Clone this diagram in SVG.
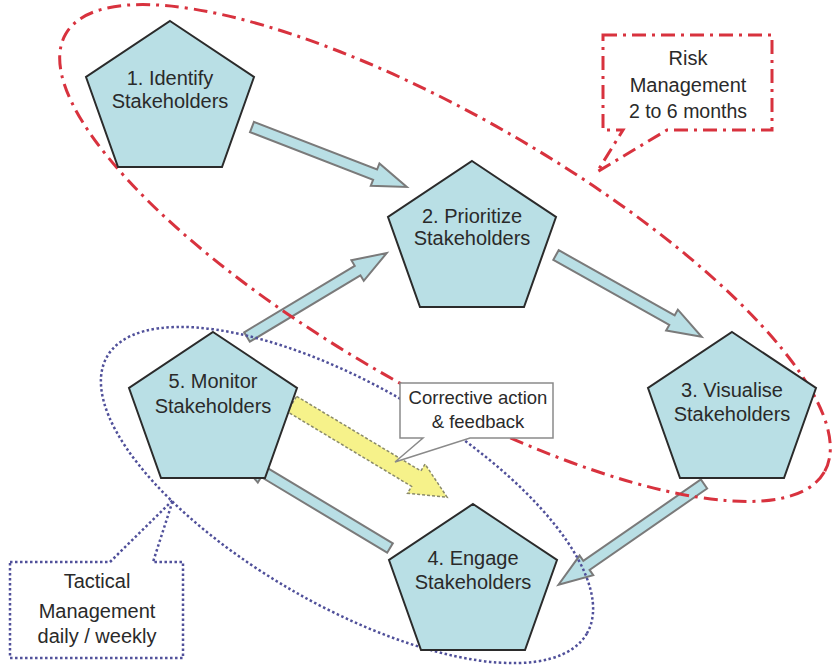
<svg xmlns="http://www.w3.org/2000/svg" width="840" height="668" viewBox="0 0 840 668">
<defs>
<style>
.pent{fill:#b9dfe5;stroke:#2b2b2b;stroke-width:2;stroke-linejoin:miter}
.lbl{font-family:"Liberation Sans",Arial,sans-serif;font-size:20px;fill:#2a2a2a;text-anchor:middle}
.arr{fill:#b9dfe5;stroke:#7a7a7a;stroke-width:2;stroke-linejoin:miter}
.yarr{fill:#f6f28a;stroke:#8a8a6a;stroke-width:1.5;stroke-dasharray:3 2}
.red{fill:none;stroke:#d8323e;stroke-width:3;stroke-dasharray:14 6 3 6}
.blue{fill:none;stroke:#50509a;stroke-width:2.5;stroke-dasharray:2.5 2.5}
.redbox{fill:#fff;stroke:#d8323e;stroke-width:3;stroke-dasharray:14 6 3 6}
.bluebox{fill:#fff;stroke:#50509a;stroke-width:2.5;stroke-dasharray:2.5 2.5}
.callout{fill:#fff;stroke:#8a8a8a;stroke-width:1.5}
</style>
<polygon id="pentShape" points="0,0 84,56 52,146 -52,146 -84,56"/>
</defs>
<rect width="840" height="668" fill="#fff"/>

<g id="connectors">
<polygon class="arr" transform="translate(252,127) rotate(21.16)" points="0,-5.5 132,-5.5 132,-12 166,0 132,12 132,5.5 0,5.5"/>
<polygon class="arr" transform="translate(556,255) rotate(29.3)" points="0,-5.5 133,-5.5 133,-12 167,0 133,12 133,5.5 0,5.5"/>
<polygon class="arr" transform="translate(704,484) rotate(145.3)" points="0,-5.5 143,-5.5 143,-12 177,0 143,12 143,5.5 0,5.5"/>
<polygon class="arr" transform="translate(390,548) rotate(211)" points="0,-5.5 147,-5.5 147,-12 181,0 147,12 147,5.5 0,5.5"/>
<polygon class="arr" transform="translate(247,337) rotate(-31)" points="0,-5.5 129,-5.5 129,-12 163,0 129,12 129,5.5 0,5.5"/>
<polygon class="yarr" transform="translate(292,404) rotate(31)" points="0,-9 145,-9 145,-17 181,0 145,17 145,9 0,9"/>
</g>

<g id="risk-ellipse">
<ellipse class="red" cx="445" cy="253" rx="438" ry="135.5" transform="rotate(30 445 253)"/>
</g>
<g id="tactical-ellipse">
<ellipse class="blue" cx="347" cy="495" rx="277" ry="110" transform="rotate(30 347 495)"/>
</g>

<g id="n1">
<use href="#pentShape" class="pent" x="170" y="21"/>
<text class="lbl" x="170" y="85">1. Identify</text>
<text class="lbl" x="170" y="108">Stakeholders</text>
</g>
<g id="n2">
<use href="#pentShape" class="pent" x="472" y="161"/>
<text class="lbl" x="472" y="223">2. Prioritize</text>
<text class="lbl" x="472" y="245">Stakeholders</text>
</g>
<g id="n3">
<use href="#pentShape" class="pent" x="732" y="332"/>
<text class="lbl" x="732" y="397">3. Visualise</text>
<text class="lbl" x="732" y="421">Stakeholders</text>
</g>
<g id="n4">
<use href="#pentShape" class="pent" x="473" y="504"/>
<text class="lbl" x="473" y="565">4. Engage</text>
<text class="lbl" x="473" y="589">Stakeholders</text>
</g>
<g id="n5">
<use href="#pentShape" class="pent" x="213" y="332"/>
<text class="lbl" x="213" y="388">5. Monitor</text>
<text class="lbl" x="213" y="413">Stakeholders</text>
</g>

<g id="risk-callout">
<path class="redbox" d="M603,35 H772 V130 H667 L597,172 L623,130 H603 Z"/>
<text class="lbl" x="688" y="65">Risk</text>
<text class="lbl" x="688" y="92">Management</text>
<text class="lbl" x="688" y="118" style="font-size:19.5px">2 to 6 months</text>
</g>

<g id="tactical-callout">
<path class="bluebox" d="M10,562 H110 L173,500 L153,562 H183 V658 H10 Z"/>
<text class="lbl" x="97" y="588">Tactical</text>
<text class="lbl" x="97" y="618">Management</text>
<text class="lbl" x="97" y="643">daily / weekly</text>
</g>

<g id="corrective-callout">
<path class="callout" d="M400,383 H553 V438 H470 L395,462 L423,438 H400 Z"/>
<text class="lbl" x="478" y="404" style="font-size:18.5px">Corrective action</text>
<text class="lbl" x="478" y="428" style="font-size:18.5px">&amp; feedback</text>
</g>
</svg>
